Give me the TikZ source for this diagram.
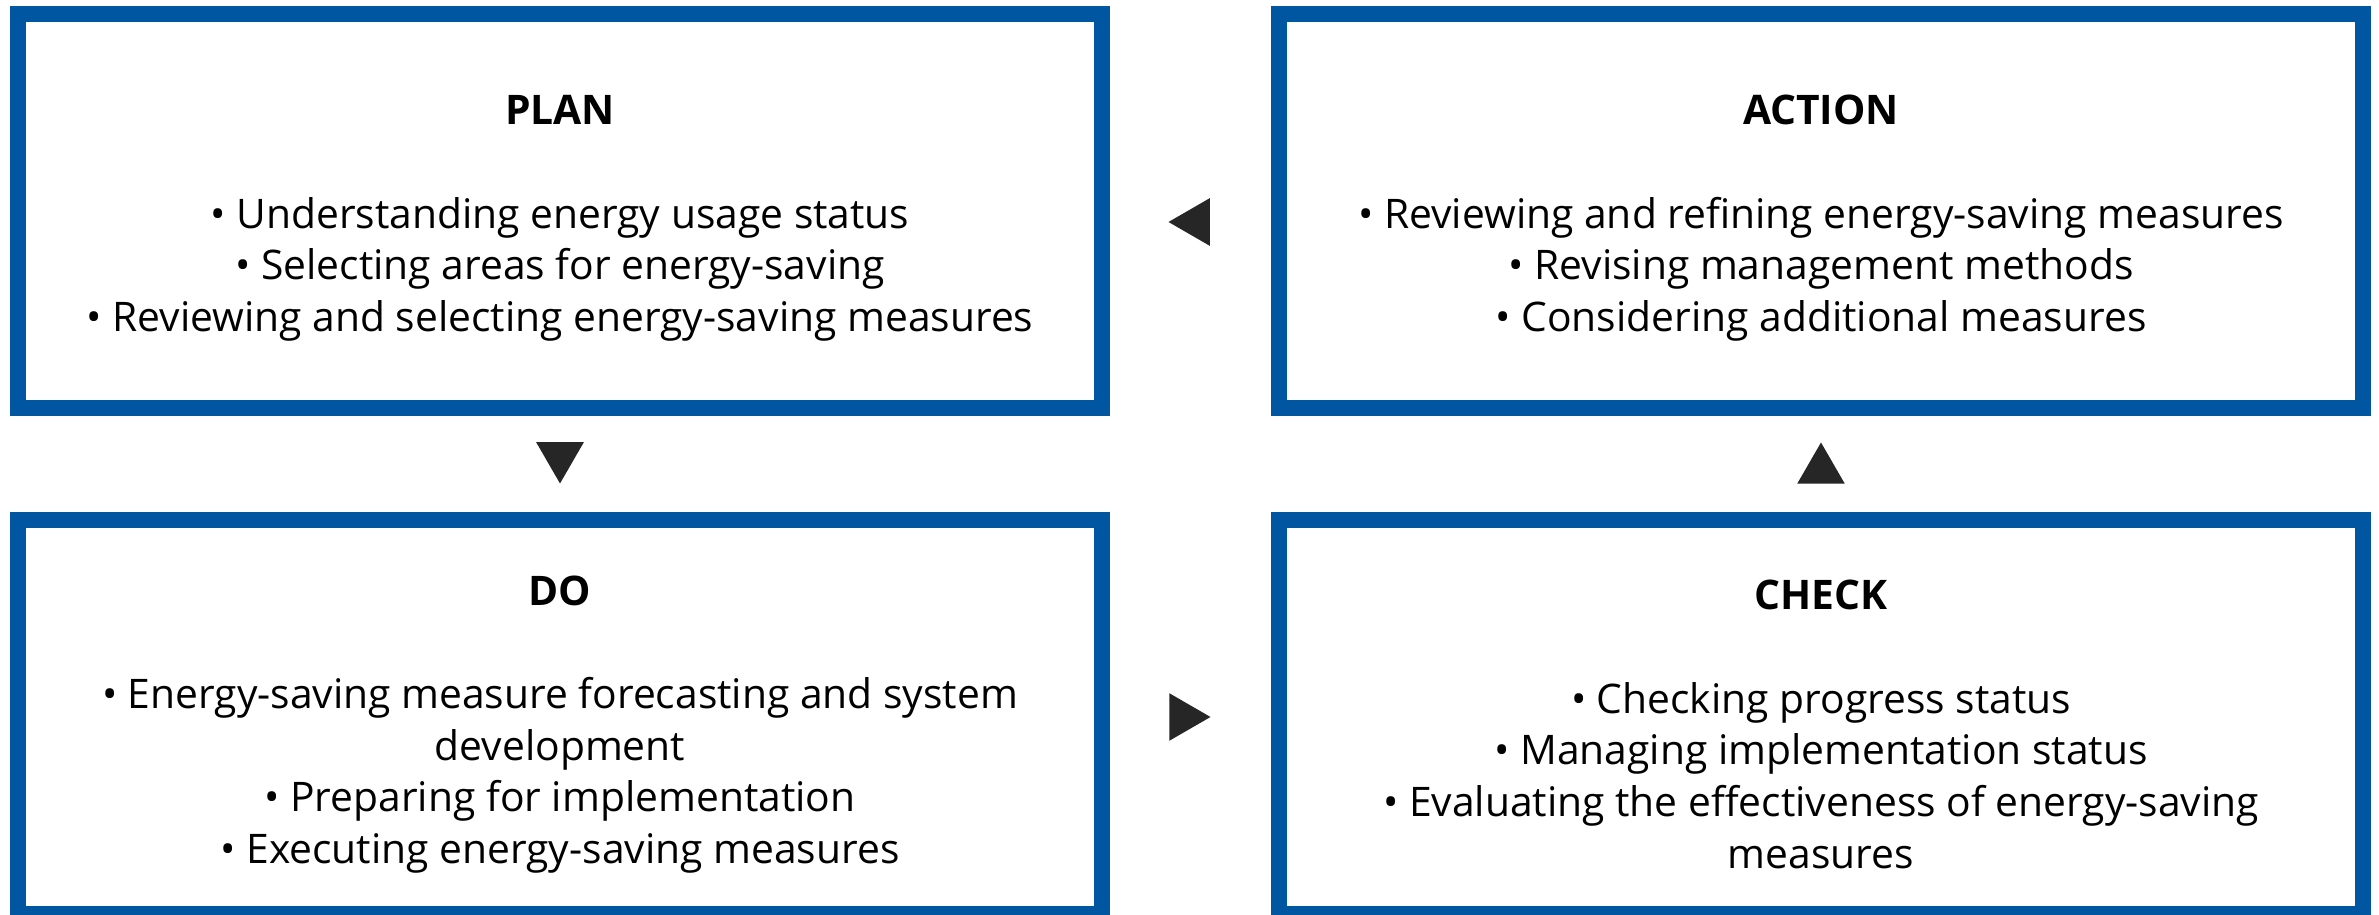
\documentclass[tikz,border=0pt]{standalone}
\usepackage{fontspec}
\setmainfont{Open Sans}
\usetikzlibrary{positioning, shapes.geometric, calc}
\definecolor{pdcablue}{RGB}{0,86,161}
\newcommand{\phasehead}[1]{\rule{0pt}{12.6pt}\textbf{#1}}

\begin{document}
\begin{tikzpicture}[
    x=0.1mm,
    y=-0.1mm,
    node distance=0.96cm and 1.61cm,
    phase/.style={rectangle, draw=pdcablue, line width=1.6mm, fill=white,
      minimum width=108.4mm, minimum height=39.4mm, inner sep=0pt,
      align=center, font=\fontsize{11.6}{14.7}\selectfont},
    tri/.style={regular polygon, regular polygon sides=3, fill=black!85,
      minimum size=5.5mm, inner sep=0pt, outer sep=0pt}
  ]
  \useasboundingbox (0,0) rectangle (2379,915);

  % --- CAIXAS DO CICLO ---

  % Planejamento (canto superior esquerdo)
  \node[phase] (plan) at (560,211) {\phasehead{PLAN}\\[14.7pt]
    • Understanding energy usage status\\
    • Selecting areas for energy-saving\\
    • Reviewing and selecting energy-saving measures};

  % Ação
  \node[phase, right=of plan] (action) {\phasehead{ACTION}\\[14.7pt]
    • Reviewing and refining energy-saving measures\\
    • Revising management methods\\
    • Considering additional measures};

  % Execução
  \node[phase, below=of plan] (do) {\phasehead{DO}\\[14.7pt]
    • Energy-saving measure forecasting and system\\
    development\\
    • Preparing for implementation\\
    • Executing energy-saving measures};

  % Verificação
  \node[phase, below=of action] (check) {\phasehead{CHECK}\\[14.7pt]
    • Checking progress status\\
    • Managing implementation status\\
    • Evaluating the effectiveness of energy-saving\\
    measures};

  % --- SETAS (triângulos entre as caixas) ---
  \node[tri, shape border rotate=90, xshift=0.55mm, yshift=-1.1mm]
    (actionplan) at ($(action.west)!0.5!(plan.east)$) {};
  \node[tri, shape border rotate=180, yshift=0.8mm]
    (plando) at ($(plan.south)!0.5!(do.north)$) {};
  \node[tri, shape border rotate=-90, xshift=-0.75mm]
    (docheck) at ($(do.east)!0.5!(check.west)$) {};
  \node[tri, yshift=-0.6mm]
    (checkaction) at ($(check.north)!0.5!(action.south)$) {};

\end{tikzpicture}
\end{document}
